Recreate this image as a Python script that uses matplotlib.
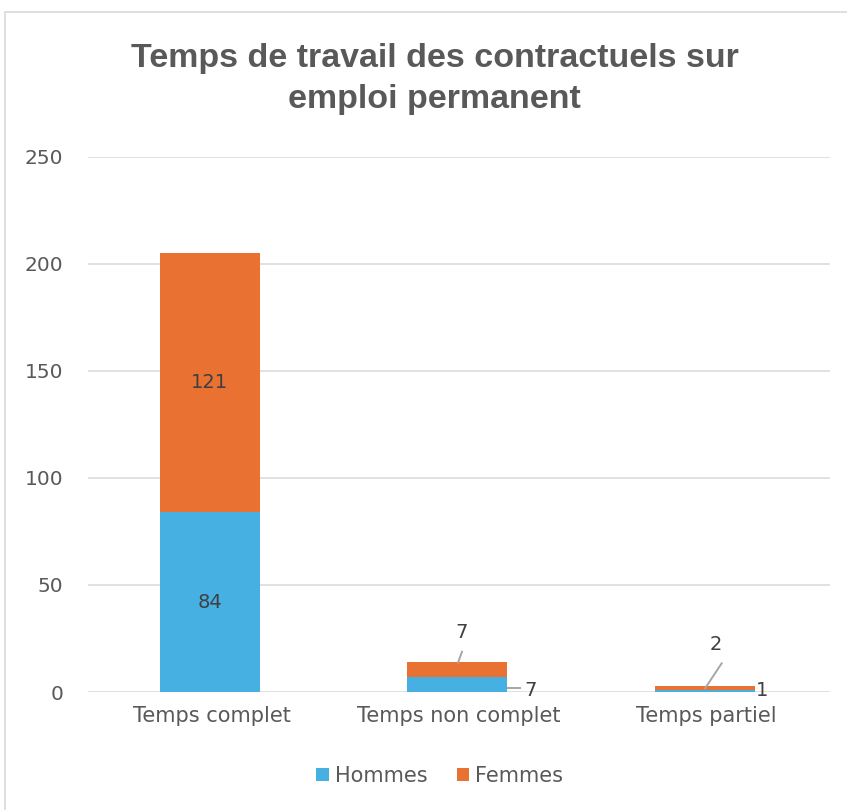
import matplotlib.pyplot as plt
from matplotlib.patches import Rectangle
import numpy as np

categories = ['Temps complet', 'Temps non complet', 'Temps partiel']
hommes = [84, 7, 1]
femmes = [121, 7, 2]
yticks = [0, 50, 100, 150, 200, 250]

c_h = '#45B0E1'
c_f = '#E97132'
grey = '#595959'

fig = plt.figure(figsize=(8.47, 8.10), dpi=100)
fig.patches.append(Rectangle((5 / 847, -0.1), 1.1, 1 - 12 / 810 + 0.1,
                             transform=fig.transFigure, fill=False,
                             edgecolor='#d9d9d9', linewidth=1.2))

ax = fig.add_axes([88 / 847, 1 - 692 / 810, 742 / 847, 535 / 810])
x = np.arange(len(categories))
w = 0.405
ax.bar(x - 0.007, hommes, w, color=c_h, label='Hommes', zorder=3)
ax.bar(x - 0.007, femmes, w, bottom=hommes, color=c_f, label='Femmes', zorder=3)

ax.set_xlim(-0.5, 2.5)
ax.set_ylim(0, 250)
ax.set_yticks(yticks)
ax.grid(axis='y', color='#d9d9d9', linewidth=1.1, zorder=0)
for s in ax.spines.values():
    s.set_visible(False)
ax.tick_params(length=0, colors=grey)
ax.tick_params(axis='x', labelsize=15, pad=10)
ax.tick_params(axis='y', labelsize=14.5, pad=18)
ax.set_xticks(x)
ax.set_xticklabels(categories)

lab = dict(fontsize=14, color='#404040', ha='center', va='center', zorder=5)
# first category: labels inside
ax.text(x[0] - 0.007, hommes[0] / 2, str(hommes[0]), **lab)
ax.text(x[0] - 0.007, hommes[0] + femmes[0] / 2, str(femmes[0]), **lab)

# small segments: labels outside with leader lines
lc = '#a6a6a6'
ax.plot([1.198, 1.245], [1.9, 1.9], color=lc, lw=1.4, zorder=4)
ax.text(1.29, 0.9, str(hommes[1]), **lab)
ax.plot([0.996, 1.012], [13.7, 18.8], color=lc, lw=1.4, zorder=4)
ax.text(1.012, 28, str(femmes[1]), **lab)

ax.plot([1.995, 2.062], [1.7, 13.4], color=lc, lw=1.4, zorder=4)
ax.text(2.037, 22, str(femmes[2]), **lab)
ax.text(2.226, 0.9, str(hommes[2]), **lab)

fig.text(0.513, 1 - 79 / 810, 'Temps de travail des contractuels sur\nemploi permanent',
         ha='center', va='center', fontsize=24.5, fontweight='bold', color=grey,
         family='Liberation Sans', linespacing=1.45)

ax.legend(loc='center', bbox_to_anchor=(0.474, (692 - 776) / 535), ncol=2, frameon=False,
          fontsize=15, labelcolor=grey, handlelength=0.6, handleheight=0.6,
          handletextpad=0.3, columnspacing=1.4)

fig.savefig('out.png', dpi=100)
